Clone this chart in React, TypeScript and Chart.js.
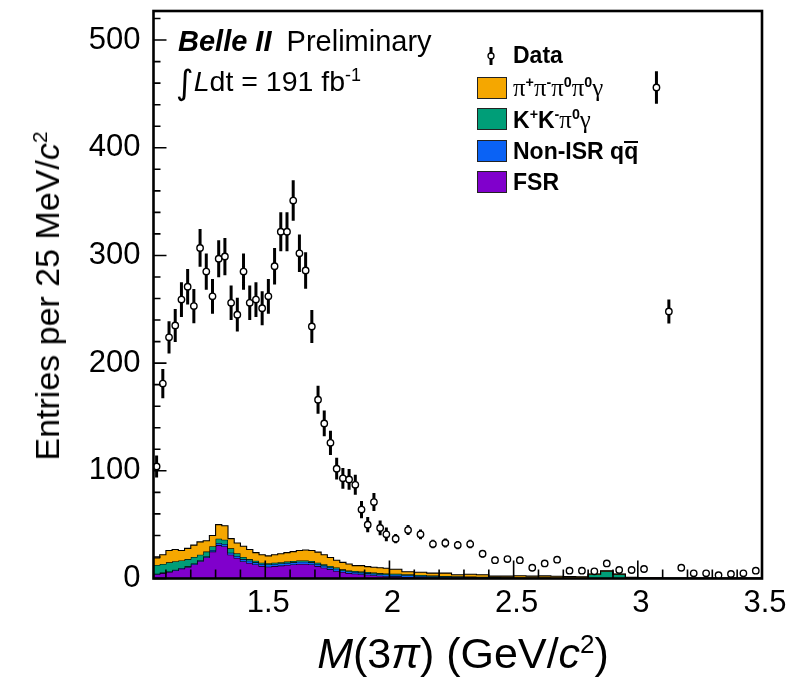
import React, { useEffect, useRef } from 'react';
import { Chart, registerables } from 'chart.js';

Chart.register(...registerables);

// ---- axis ranges & binning (GeV/c^2) ----
const X_MIN = 1.05;
const X_MAX = 3.5;
const Y_MIN = 0;
const Y_MAX = 527;
const FINE_START = 1.05;
const FINE_WIDTH = 0.025;
const FINE_COUNT = 38;
const COARSE_START = 2.0;
const COARSE_WIDTH = 0.05;
const COARSE_COUNT = 30;

// ---- tick labels ----
const xTickValues = [1.5, 2, 2.5, 3, 3.5];
const xTickLabels = ['1.5', '2', '2.5', '3', '3.5'];
const yTickValues = [0, 100, 200, 300, 400, 500];
const yTickLabels = ['0', '100', '200', '300', '400', '500'];

// ---- data (entries per 25 MeV/c^2) ----
const dataFine = [
  104, 181, 224, 235, 259, 271, 253, 307, 285, 262, 297, 299, 256, 245, 285, 256, 259, 251, 262,
  290, 322, 322, 351, 302, 286, 234, 166, 144, 126, 102, 93, 92, 87, 64, 50, 71, 47, 41,
];
const errFine = [
  10.2, 13.5, 15, 15.3, 16.1, 16.5, 15.9, 17.5, 16.9, 16.2, 17.2, 17.3, 16, 15.7, 16.9, 16, 16.1, 15.8, 16.2,
  17, 18, 18, 18.8, 17.4, 16.9, 15.3, 12.9, 12, 11.2, 10.1, 9.6, 9.6, 9.3, 8, 7.1, 8.4, 6.9, 6.4,
];
const dataCoarse = [
  37, 45, 41, 32, 33, 31, 32, 23, 17, 18, 17, 10, 14, 17.5, 7.3, 7.3, 6.7, 14, 7.9, 7.9,
  8.8, 456, 248, 10, 4.8, 4.8, 3, 4.2, 4.8, 7.3,
];
const errCoarse = [
  4.3, 4.7, 4.5, 4, 4.1, 3.9, 4, 3.4, 2.9, 3, 2.9, 2.2, 2.6, 3, 1.9, 1.9, 1.8, 2.6, 2, 2,
  2.1, 15.1, 11.1, 2.2, 1.5, 1.5, 1.2, 1.4, 1.5, 1.9,
];

// ---- stacked MC components ----
const fsr = [
  4, 5, 6, 7.5, 9, 10.5, 13, 16, 19.5, 25, 31, 30, 22, 19, 16, 14.5, 13, 11.5, 11,
  11.5, 12, 12.5, 13, 13.5, 13.5, 13, 11.5, 10, 8.5, 7, 6, 5, 4.5, 4, 3.5, 3, 2.5, 2.2,
  2, 1.5, 1.2, 1, 0.8, 0.6, 0.5, 0.4, 0.3, 0.3, 0.2, 0.2, 0.2, 0.1, 0.1, 0.1, 0.1, 0.1, 0.1, 0.1,
  0.1, 0.1, 0.05, 0.05, 0.05, 0.05, 0.05, 0.05, 0.05, 0.05,
];
const nonIsr = [
  0.5, 0.5, 0.6, 0.6, 0.7, 0.8, 0.9, 1, 1.2, 1.5, 2, 2, 2, 2, 2, 2, 2, 2, 2,
  2, 2, 2, 2, 2, 2, 2, 2, 2, 2, 2, 1.5, 1.5, 1.5, 1.5, 1.5, 1.5, 1.5, 1.5,
  1.5, 1.5, 1.2, 1.2, 1, 1, 0.8, 0.8, 0.6, 0.6, 0.5, 0.4, 0.4, 0.3, 0.3, 0.3, 0.2, 0.2, 0.2, 0.2,
  0.1, 0.1, 0.1, 0.1, 0.1, 0.1, 0.1, 0.1, 0.1, 0.1,
];
const kkpi0g = [
  8, 8, 8.4, 7.9, 7.1, 6.7, 6.1, 5, 4.3, 3.5, 4, 4, 4, 2.5, 2, 1.5, 1.5, 1.2, 1.2,
  1.2, 1.2, 1.2, 1.2, 1.2, 1.2, 1.2, 1.2, 1.2, 1.2, 1.2, 1, 1, 1, 1, 1, 1, 1, 1,
  1, 1, 0.8, 0.6, 0.6, 0.5, 0.5, 0.4, 0.4, 0.3, 0.3, 0.3, 0.3, 0.3, 0.3, 0.4, 3.5, 6.5, 3.5, 0.5,
  0.3, 0.3, 0.1, 0.1, 0.1, 0.1, 0.1, 0.1, 0.1, 0.1,
];
const pipipi0pi0g = [
  6.5, 8.5, 11, 11, 9.2, 10, 11, 12, 10, 10, 13, 13, 9, 9.5, 10, 9, 7.5, 7.3, 6.8,
  7.3, 7.8, 8.3, 8.8, 9.3, 9.8, 9.8, 9.8, 8.8, 7.8, 6.8, 6.5, 6, 5, 5.5, 5, 5, 5, 4.8,
  4.1, 2.3, 2.6, 2.2, 2.6, 1.4, 2.2, 1.9, 0.9, 1.0, 1.5, 1.3, 1.5, 1.4, 1.0, 0.8, 0.4, 0.3, 0.3, 0.3,
  0.2, 0.2, 0.1, 0.1, 0.1, 0.1, 0.1, 0.1, 0.1, 0.1,
];

const COLORS = {
  orange: '#f5a700',
  teal: '#009e78',
  blue: '#0a62f5',
  purple: '#8000cc',
};

const FONT = "'Liberation Sans', Arial, Helvetica, sans-serif";
const SERIF = "'Liberation Serif', 'DejaVu Serif', serif";

// bin edges (structure only)
const edges: number[] = [];
for (let i = 0; i <= FINE_COUNT; i++) edges.push(+(FINE_START + i * FINE_WIDTH).toFixed(4));
for (let i = 1; i <= COARSE_COUNT; i++) edges.push(+(COARSE_START + i * COARSE_WIDTH).toFixed(4));
const centers = edges.slice(0, -1).map((e, i) => (e + edges[i + 1]) / 2);

function stepPoints(vals: number[]) {
  const pts = vals.map((v, i) => ({ x: edges[i], y: v }));
  pts.push({ x: edges[edges.length - 1], y: vals[vals.length - 1] });
  return pts;
}

const framePlugin = {
  id: 'rootFrame',
  afterDatasetsDraw(chart: any) {
    const { ctx, chartArea: a, scales } = chart;
    const x = scales.x;
    const y = scales.y;
    ctx.save();
    ctx.strokeStyle = '#000';
    ctx.lineWidth = 1.6;
    ctx.beginPath();
    for (let v = 0; v <= 520; v += 20) {
      const py = y.getPixelForValue(v);
      const len = v % 100 === 0 ? 13 : 7;
      ctx.moveTo(a.left, py);
      ctx.lineTo(a.left + len, py);
    }
    for (let k = 11; k <= 35; k++) {
      const px = x.getPixelForValue(k / 10);
      const len = k % 5 === 0 ? 18 : 9;
      ctx.moveTo(px, a.bottom);
      ctx.lineTo(px, a.bottom - len);
    }
    ctx.stroke();
    ctx.lineWidth = 2.6;
    ctx.strokeRect(a.left, a.top, a.right - a.left, a.bottom - a.top);
    ctx.restore();
  },
};

export default function App() {
  const canvasRef = useRef<HTMLCanvasElement | null>(null);

  useEffect(() => {
    const canvas = canvasRef.current;
    if (!canvas) return;

    const c1 = fsr.map((v) => v);
    const c2 = c1.map((v, i) => v + nonIsr[i]);
    const c3 = c2.map((v, i) => v + kkpi0g[i]);
    const c4 = c3.map((v, i) => v + pipipi0pi0g[i]);

    const dataVals = [...dataFine, ...dataCoarse];
    const dataErrs = [...errFine, ...errCoarse];
    const errPts: any[] = [];
    dataVals.forEach((v, i) => {
      errPts.push({ x: centers[i], y: v - dataErrs[i] });
      errPts.push({ x: centers[i], y: v + dataErrs[i] });
      errPts.push({ x: centers[i], y: null });
    });
    const markerPts = dataVals.map((v, i) => ({ x: centers[i], y: v }));

    const histDs = (label: string, vals: number[], color: string, fill: any, order: number) => ({
      type: 'line',
      label,
      data: stepPoints(vals),
      stepped: true,
      borderColor: '#000',
      borderWidth: 1.1,
      backgroundColor: color,
      fill,
      pointRadius: 0,
      order,
    });

    const chart = new Chart(canvas, {
      type: 'line',
      data: {
        datasets: [
          histDs('fsr', c1, COLORS.purple, 'origin', 5) as any,
          histDs('nonIsr', c2, COLORS.blue, '-1', 4) as any,
          histDs('kkpi0g', c3, COLORS.teal, '-1', 3) as any,
          histDs('pipipi0pi0g', c4, COLORS.orange, '-1', 2) as any,
          {
            type: 'line',
            label: 'errors',
            data: errPts,
            borderColor: '#000',
            borderWidth: 3,
            pointRadius: 0,
            spanGaps: false,
            fill: false,
            order: 1,
          } as any,
          {
            type: 'scatter',
            label: 'Data',
            data: markerPts,
            pointRadius: 3.2,
            pointBackgroundColor: '#ffffff',
            pointBorderColor: '#000000',
            pointBorderWidth: 1.4,
            showLine: false,
            order: 0,
          } as any,
        ],
      },
      options: {
        responsive: false,
        animation: false,
        devicePixelRatio: 1,
        layout: { padding: { left: 0, top: 11, right: 27, bottom: 0 } },
        plugins: {
          legend: { display: false },
          tooltip: { enabled: false },
          title: { display: false },
        },
        scales: {
          x: {
            type: 'linear',
            min: X_MIN,
            max: X_MAX,
            grid: { display: false, drawTicks: false },
            border: { display: false },
            afterFit: (s: any) => {
              s.height = 101.5;
              s.paddingLeft = 0;
              s.paddingRight = 0;
            },
            afterBuildTicks: (s: any) => {
              s.ticks = xTickValues.map((v) => ({ value: v }));
            },
            ticks: {
              autoSkip: false,
              maxRotation: 0,
              padding: 6,
              labelOffset: 3,
              color: '#000',
              font: { family: FONT, size: 31 },
              callback: (_v: any, i: number) => xTickLabels[i],
            },
          },
          y: {
            type: 'linear',
            min: Y_MIN,
            max: Y_MAX,
            grid: { display: false, drawTicks: false },
            border: { display: false },
            afterFit: (s: any) => {
              s.width = 153.5;
              s.paddingTop = 0;
              s.paddingBottom = 0;
            },
            afterBuildTicks: (s: any) => {
              s.ticks = yTickValues.map((v) => ({ value: v }));
            },
            ticks: {
              autoSkip: false,
              padding: 13,
              color: '#000',
              font: { family: FONT, size: 31 },
              callback: (_v: any, i: number) => yTickLabels[i],
            },
          },
        },
      } as any,
      plugins: [framePlugin],
    });

    return () => chart.destroy();
  }, []);

  const sup = (t: string, extra: any = {}) => (
    <sup style={{ fontSize: '0.62em', lineHeight: 0, fontWeight: 'bold', fontFamily: FONT, ...extra }}>{t}</sup>
  );
  const gr = (t: string) => (
    <span style={{ fontFamily: SERIF, fontWeight: 'normal', fontSize: '1.08em' }}>{t}</span>
  );

  const legendRow = (top: number, color: string, content: React.ReactNode) => (
    <>
      <div
        style={{
          position: 'absolute',
          left: 477,
          top: top - 11,
          width: 30,
          height: 22,
          boxSizing: 'border-box',
          background: color,
          border: '1.5px solid #222',
        }}
      />
      <div
        style={{
          position: 'absolute',
          left: 513,
          top: top + 8 - 0.8465 * 23,
          fontFamily: FONT,
          fontWeight: 'bold',
          fontSize: 23,
          lineHeight: 1,
          whiteSpace: 'nowrap',
          color: '#000',
        }}
      >
        {content}
      </div>
    </>
  );

  return (
    <div
      style={{
        position: 'absolute',
        left: 0,
        top: 0,
        width: 789,
        height: 680,
        background: '#fff',
        overflow: 'hidden',
      }}
    >
      <canvas ref={canvasRef} width={789} height={680} style={{ display: 'block', width: 789, height: 680 }} />

      {/* Belle II Preliminary */}
      <div
        style={{
          position: 'absolute',
          left: 178,
          top: 52 - 0.8465 * 29,
          fontFamily: FONT,
          fontSize: 29,
          lineHeight: 1,
          whiteSpace: 'nowrap',
          color: '#000',
        }}
      >
        <b>
          <i>Belle II</i>
        </b>
        <span style={{ marginLeft: 7 }}> Preliminary</span>
      </div>
      <div
        style={{
          position: 'absolute',
          left: 176,
          top: 91 - 0.8465 * 28,
          fontFamily: FONT,
          fontSize: 28.5,
          lineHeight: 1,
          whiteSpace: 'nowrap',
          color: '#000',
        }}
      >
        <span style={{ fontFamily: "'DejaVu Sans', sans-serif", fontSize: 34, lineHeight: 0, position: 'relative', top: 3 }}>∫</span>
        <i>L</i>dt = 191 fb
        <sup style={{ fontSize: 18, lineHeight: 0 }}>-1</sup>
      </div>

      {/* Legend: Data */}
      <svg style={{ position: 'absolute', left: 484, top: 45 }} width={14} height={22}>
        <line x1={7} y1={2} x2={7} y2={20} stroke="#000" strokeWidth={3} />
        <circle cx={7} cy={11} r={3} fill="#fff" stroke="#000" strokeWidth={1.3} />
      </svg>
      <div
        style={{
          position: 'absolute',
          left: 513,
          top: 63 - 0.8465 * 23,
          fontFamily: FONT,
          fontWeight: 'bold',
          fontSize: 23,
          lineHeight: 1,
          whiteSpace: 'nowrap',
          color: '#000',
        }}
      >
        Data
      </div>
      {legendRow(
        87.5,
        COLORS.orange,
        <>
          {gr('π')}
          {sup('+')}
          {gr('π')}
          {sup('-')}
          {gr('π')}
          {sup('0')}
          {gr('π')}
          {sup('0')}
          {gr('γ')}
        </>
      )}
      {legendRow(
        119,
        COLORS.teal,
        <>
          K{sup('+')}K{sup('-')}
          {gr('π')}
          {sup('0')}
          {gr('γ')}
        </>
      )}
      {legendRow(
        151,
        COLORS.blue,
        <>
          Non-ISR q
          <span
            style={{
              display: 'inline-block',
              borderTop: '2px solid #000',
              lineHeight: '0.78em',
            }}
          >
            q
          </span>
        </>
      )}
      {legendRow(182, COLORS.purple, <>FSR</>)}

      {/* Y axis title */}
      <div
        style={{
          position: 'absolute',
          left: 47,
          top: 296,
          transform: 'translate(-50%, -50%) rotate(-90deg)',
          fontFamily: FONT,
          fontSize: 34,
          lineHeight: 1,
          whiteSpace: 'nowrap',
          color: '#000',
        }}
      >
        Entries per 25 MeV/<i>c</i>
        <sup style={{ fontSize: 21, lineHeight: 0 }}>2</sup>
      </div>

      {/* X axis title */}
      <div
        style={{
          position: 'absolute',
          left: 463,
          top: 668 - 0.8465 * 43,
          transform: 'translateX(-50%)',
          fontFamily: FONT,
          fontSize: 43,
          lineHeight: 1,
          whiteSpace: 'nowrap',
          color: '#000',
        }}
      >
        <i>M</i>(3<i>π</i>) (GeV/<i>c</i>
        <sup style={{ fontSize: 26, lineHeight: 0 }}>2</sup>)
      </div>
    </div>
  );
}
